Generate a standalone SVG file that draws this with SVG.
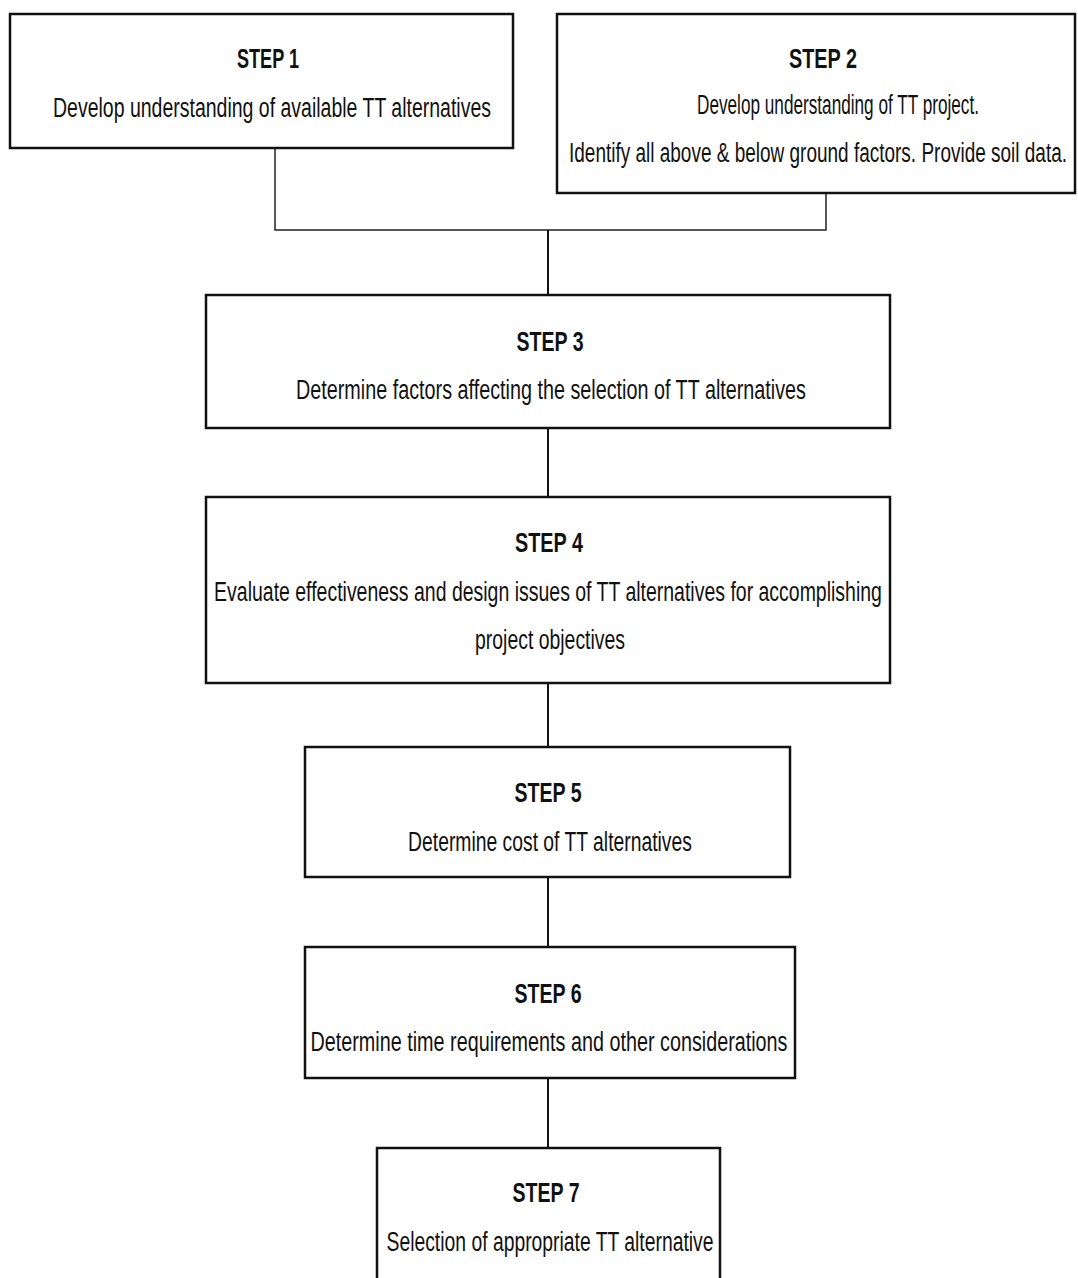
<svg xmlns="http://www.w3.org/2000/svg" width="1078" height="1278" viewBox="0 0 1078 1278">
<style>
.box{fill:#fff;stroke:#111;stroke-width:2.5}
.ln{fill:none;stroke:#222;stroke-width:1.5}
.v{stroke:#111;stroke-width:2}
.t{font-family:"Liberation Sans",Arial,sans-serif;font-size:28px;fill:#111;text-anchor:middle}
.h{font-family:"Liberation Sans",Arial,sans-serif;font-size:27px;font-weight:bold;fill:#111;text-anchor:middle}
</style>
<rect width="1078" height="1278" fill="#fff"/>
<g id="connectors">
<polyline class="ln" points="275,148 275,230 826,230 826,193"/>
<line class="v" x1="548" y1="230" x2="548" y2="295"/>
<line class="v" x1="548" y1="428" x2="548" y2="497"/>
<line class="v" x1="548" y1="683" x2="548" y2="747"/>
<line class="v" x1="548" y1="877" x2="548" y2="947"/>
<line class="v" x1="548" y1="1078" x2="548" y2="1148"/>
</g>
<g id="step1">
<rect class="box" x="10" y="14" width="503" height="134"/>
<text class="h" transform="translate(268,68) scale(0.7,1)" textLength="88.6" lengthAdjust="spacingAndGlyphs">STEP 1</text>
<text class="t" transform="translate(272,117) scale(0.6,1)" textLength="730" lengthAdjust="spacingAndGlyphs">Develop understanding of available TT alternatives</text>
</g>
<g id="step2">
<rect class="box" x="557" y="14" width="518" height="179"/>
<text class="h" transform="translate(823,68) scale(0.7,1)" textLength="97" lengthAdjust="spacingAndGlyphs">STEP 2</text>
<text class="t" transform="translate(838,114) scale(0.6,1)" textLength="470" lengthAdjust="spacingAndGlyphs">Develop understanding of TT project.</text>
<text class="t" transform="translate(818,162) scale(0.6,1)" textLength="830" lengthAdjust="spacingAndGlyphs">Identify all above &amp; below ground factors. Provide soil data.</text>
</g>
<g id="step3">
<rect class="box" x="206" y="295" width="684" height="133"/>
<text class="h" transform="translate(550,351) scale(0.7,1)" textLength="95.7" lengthAdjust="spacingAndGlyphs">STEP 3</text>
<text class="t" transform="translate(551,399) scale(0.6,1)" textLength="850" lengthAdjust="spacingAndGlyphs">Determine factors affecting the  selection of TT alternatives</text>
</g>
<g id="step4">
<rect class="box" x="206" y="497" width="684" height="186"/>
<text class="h" transform="translate(549,552) scale(0.7,1)" textLength="97" lengthAdjust="spacingAndGlyphs">STEP 4</text>
<text class="t" transform="translate(548,601) scale(0.6,1)" textLength="1113" lengthAdjust="spacingAndGlyphs">Evaluate effectiveness and design issues of TT alternatives for accomplishing</text>
<text class="t" transform="translate(550,649) scale(0.6,1)" textLength="250" lengthAdjust="spacingAndGlyphs">project objectives</text>
</g>
<g id="step5">
<rect class="box" x="305" y="747" width="485" height="130"/>
<text class="h" transform="translate(548,802) scale(0.7,1)" textLength="95.7" lengthAdjust="spacingAndGlyphs">STEP 5</text>
<text class="t" transform="translate(550,851) scale(0.6,1)" textLength="473" lengthAdjust="spacingAndGlyphs">Determine cost of TT alternatives</text>
</g>
<g id="step6">
<rect class="box" x="305" y="947" width="490" height="131"/>
<text class="h" transform="translate(548,1003) scale(0.7,1)" textLength="95.7" lengthAdjust="spacingAndGlyphs">STEP 6</text>
<text class="t" transform="translate(549,1051) scale(0.6,1)" textLength="795" lengthAdjust="spacingAndGlyphs">Determine time requirements and other considerations</text>
</g>
<g id="step7">
<rect class="box" x="377" y="1148" width="343" height="140"/>
<text class="h" transform="translate(546,1202) scale(0.7,1)" textLength="95.7" lengthAdjust="spacingAndGlyphs">STEP 7</text>
<text class="t" transform="translate(550,1251) scale(0.6,1)" textLength="545" lengthAdjust="spacingAndGlyphs">Selection of appropriate TT alternative</text>
</g>
</svg>
